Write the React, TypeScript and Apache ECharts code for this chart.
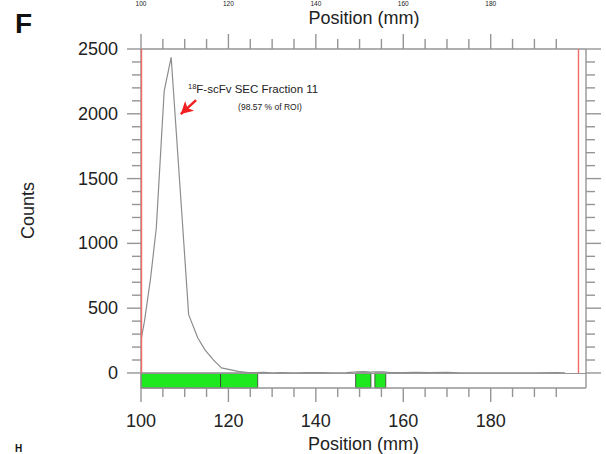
import React, { useEffect, useRef } from "react";
import * as echarts from "echarts";

// Radio-TLC profile data (Position mm, Counts)
const positions = [100.1, 100.8, 102.2, 103.5, 105.3, 106.9, 109.2, 110.9, 113.0, 114.6, 116.5, 118.4, 120.3, 122.2, 124.5, 126, 128, 130, 132, 135, 138, 141, 144, 147, 149.5, 151, 152.5, 154, 155.5, 157, 160, 163, 166, 170, 173, 180, 190, 195, 197];
const counts = [270, 400, 733, 1119, 2174, 2436, 1300, 450, 270, 180, 103, 39, 26, 12, 3, 2, 4, 1, 3, 1, 2, 3, 1, 3, 8, 10, 6, 9, 8, 3, 2, 5, 3, 4, 0, 0, 0, 3, 0];

// ROI regions (green bars)
const roiStart = [100, 118.2, 149.1, 153.5];
const roiEnd = [118.2, 126.7, 152.6, 156.0];

// Axis ticks
const xMajor = [100, 120, 140, 160, 180];
const xMinor = [105, 110, 115, 125, 130, 135, 145, 150, 155, 165, 170, 175, 185, 190, 195];
const yMajor = [0, 500, 1000, 1500, 2000, 2500];
const yMinor = [100, 200, 300, 400, 600, 700, 800, 900, 1100, 1200, 1300, 1400, 1600, 1700, 1800, 1900, 2100, 2200, 2300, 2400];

// ROI markers (red lines)
const roiLimits = [100, 200];

// Annotation
const peakLabel = "F-scFv SEC Fraction 11";
const peakSub = "(98.57 % of ROI)";
const arrowFrom = [112.6, 2106];
const arrowTo = [109.1, 1998];

const X_MIN = 100;
const X_MAX = 201.8;
const Y_MIN = -116;
const Y_MAX = 2500;

const FONT = "'Liberation Sans', Arial, sans-serif";
const AXIS_GRAY = "#959595";

export default function App() {
  const ref = useRef<HTMLDivElement>(null);

  useEffect(() => {
    if (!ref.current) return;
    const chart = echarts.init(ref.current, null, { renderer: "svg" });

    chart.setOption({
      animation: false,
      backgroundColor: "#ffffff",
      grid: { left: 141, right: 20, top: 49, bottom: 66, outerBoundsMode: "none" },
      xAxis: {
        type: "value",
        min: X_MIN,
        max: X_MAX,
        splitLine: { show: false },
        axisLine: { show: false, onZero: false },
        axisTick: { show: false },
        axisLabel: { show: true, customValues: xMajor, fontSize: 18, color: "#222", fontFamily: FONT, margin: 24, formatter: (v: number) => String(v) },
        name: "Position (mm)",
        nameLocation: "middle",
        nameGap: 44,
        nameTextStyle: { fontSize: 18, color: "#222", fontFamily: FONT },
      },
      yAxis: {
        type: "value",
        min: Y_MIN,
        max: Y_MAX,
        splitLine: { show: false },
        axisLine: { show: false, onZero: false },
        axisTick: { show: false },
        axisLabel: { show: true, customValues: yMajor, fontSize: 18, color: "#222", fontFamily: FONT, margin: 23, formatter: (v: number) => String(v) },
        name: "Counts",
        nameLocation: "middle",
        nameGap: 104,
        nameTextStyle: { fontSize: 18, color: "#222", fontFamily: FONT, padding: [0, 0, 0, 16] },
      },
      series: [
        {
          type: "line",
          data: positions.map((p, i) => [p, counts[i]]),
          symbol: "none",
          lineStyle: { color: "#8c8c8c", width: 1.2 },
          z: 3,
          silent: true,
          markArea: {
            silent: true,
            data: roiStart.map((s, i) => [
              { coord: [s, 0], itemStyle: { color: "#1ee81e", borderColor: "#3a3a3a", borderWidth: 0.8 } },
              { coord: [roiEnd[i], Y_MIN] },
            ]),
          },
          markLine: {
            silent: true,
            symbol: "none",
            label: { show: false },
            data: [
              [
                { coord: [X_MIN, 0], lineStyle: { color: AXIS_GRAY, width: 1.2, type: "solid" } },
                { coord: [X_MAX, 0] },
              ],
              ...roiLimits.map((x) => [
                { coord: [x, 0], lineStyle: { color: "#f26a6a", width: 1.4, type: "solid" } },
                { coord: [x, Y_MAX] },
              ]),
              [
                { coord: arrowFrom, symbol: "none", lineStyle: { color: "#f02020", width: 2.5, type: "solid" } },
                { coord: arrowTo, symbol: "arrow", symbolSize: [10, 12] },
              ],
            ],
          },
        },
      ],
    });

    // Frame and ticks, positioned through the chart's own scales
    const toPx = (x: number, y: number) => chart.convertToPixel({ gridIndex: 0 }, [x, y]) as number[];
    const seg = (x1: number, y1: number, x2: number, y2: number) => ({
      type: "line",
      silent: true,
      z: 1,
      shape: { x1, y1, x2, y2 },
      style: { stroke: AXIS_GRAY, lineWidth: 1.4 },
    });
    const lines: any[] = [];
    const xTicks = (vals: number[], lenB: number, lenT: number) =>
      vals.forEach((v) => {
        const b = toPx(v, Y_MIN);
        const t = toPx(v, Y_MAX);
        lines.push(seg(b[0], b[1], b[0], b[1] + lenB));
        lines.push(seg(t[0], t[1], t[0], t[1] - lenT));
      });
    const yTicks = (vals: number[], lenL: number, lenR: number) =>
      vals.forEach((v) => {
        const l = toPx(X_MIN, v);
        const r = toPx(X_MAX, v);
        lines.push(seg(l[0], l[1], l[0] - lenL, l[1]));
        lines.push(seg(r[0], r[1], r[0] + lenR, r[1]));
      });
    xTicks(xMajor, 14, 15);
    xTicks(xMinor, 9, 10);
    yTicks(yMajor, 14, 15);
    yTicks(yMinor, 9, 9);
    const tl = toPx(X_MIN, Y_MAX);
    const br = toPx(X_MAX, Y_MIN);
    lines.push(seg(tl[0], tl[1], br[0], tl[1]));
    lines.push(seg(br[0], tl[1], br[0], br[1]));
    lines.push(seg(tl[0], br[1], br[0], br[1]));
    lines.push(seg(tl[0], tl[1], tl[0], br[1]));

    const topCut = xMajor.map((v) => ({
      type: "text",
      x: toPx(v, Y_MAX)[0],
      y: 0,
      silent: true,
      style: { text: String(v), font: `6.5px ${FONT}`, fill: "#222", align: "center", verticalAlign: "top" },
    }));

    chart.setOption({
      graphic: [
        ...lines,
        {
          type: "text",
          x: 188,
          y: 89,
          silent: true,
          style: {
            text: "{sup|18}{main|" + peakLabel + "}",
            align: "left",
            verticalAlign: "middle",
            rich: {
              sup: { fontSize: 7.5, fontFamily: FONT, fill: "#222", verticalAlign: "top", lineHeight: 14 },
              main: { fontSize: 11.5, fontFamily: FONT, fill: "#222", lineHeight: 14 },
            },
          },
        },
        {
          type: "text",
          x: 270,
          y: 107,
          silent: true,
          style: { text: peakSub, font: `8.5px ${FONT}`, fill: "#222", align: "center", verticalAlign: "middle" },
        },
        {
          type: "text",
          x: 15,
          y: 23,
          silent: true,
          style: { text: "F", font: `bold 28px ${FONT}`, fill: "#111", align: "left", verticalAlign: "middle" },
        },
        {
          type: "text",
          x: 364,
          y: 18,
          silent: true,
          style: { text: "Position (mm)", font: `18px ${FONT}`, fill: "#222", align: "center", verticalAlign: "middle" },
        },
        ...topCut,
        {
          type: "text",
          x: 15,
          y: 443,
          silent: true,
          style: { text: "H", font: `bold 10px ${FONT}`, fill: "#111", align: "left", verticalAlign: "top" },
        },
      ],
    });

    return () => chart.dispose();
  }, []);

  return <div ref={ref} style={{ position: "fixed", left: 0, top: 0, width: 606, height: 454, background: "#fff" }} />;
}
